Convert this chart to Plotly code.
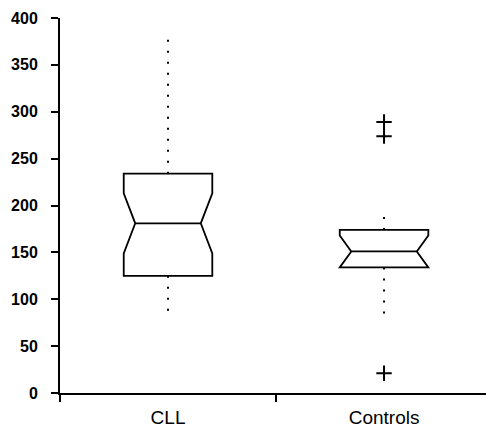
import plotly.graph_objects as go

# Group summaries (notched box plot)
groups = ["CLL", "Controls"]
q1 = [125, 134]
median = [181, 151]
q3 = [234, 174]
notch_half = [32, 17]
whisker_low = [86, 80]
whisker_high = [382, 190]

# Points beyond the whiskers
outlier_group = ["Controls", "Controls", "Controls"]
outlier_value = [289, 274, 21]

y_ticks = [0, 50, 100, 150, 200, 250, 300, 350, 400]

fig = go.Figure()

for i, g in enumerate(groups):
    fig.add_trace(go.Box(
        x=[g], q1=[q1[i]], median=[median[i]], q3=[q3[i]],
        lowerfence=[q1[i]], upperfence=[q3[i]],
        notchspan=[notch_half[i]], notched=True, notchwidth=0.13,
        width=0.41, whiskerwidth=0,
        line=dict(color="black", width=1.8),
        fillcolor="rgba(0,0,0,0)", boxpoints=False,
        showlegend=False, hoverinfo="skip",
    ))
    # dotted whiskers
    for y0, y1 in ((q3[i], whisker_high[i]), (q1[i], whisker_low[i])):
        fig.add_trace(go.Scatter(
            x=[g, g], y=[y0, y1], mode="lines",
            line=dict(color="black", width=2, dash="2px,9px"),
            showlegend=False, hoverinfo="skip",
        ))

fig.add_trace(go.Scatter(
    x=outlier_group, y=outlier_value, mode="markers",
    marker=dict(symbol="cross-thin", size=11, color="black",
                line=dict(color="black", width=2)),
    showlegend=False, hoverinfo="skip",
))

fig.update_layout(
    width=486, height=435,
    margin=dict(l=60, r=0, t=18, b=42),
    paper_bgcolor="white", plot_bgcolor="white",
    xaxis=dict(
        type="category", categoryorder="array", categoryarray=groups,
        range=[-0.5, 1.472], tickson="boundaries",
        ticks="outside", ticklen=7, tickwidth=2, tickcolor="black",
        ticklabelstandoff=6,
        showline=True, linecolor="black", linewidth=2,
        showgrid=False, zeroline=False,
        tickfont=dict(family="Liberation Sans, Arial", size=19, color="black"),
    ),
    yaxis=dict(
        range=[0, 400], tickvals=y_ticks,
        ticks="outside", ticklen=7, tickwidth=2, tickcolor="black",
        ticklabelstandoff=10,
        showline=True, linecolor="black", linewidth=2,
        showgrid=False, zeroline=False,
        tickfont=dict(family="Liberation Sans, Arial", size=16,
                      color="black", weight="bold"),
    ),
)

fig.write_html("out.html")
